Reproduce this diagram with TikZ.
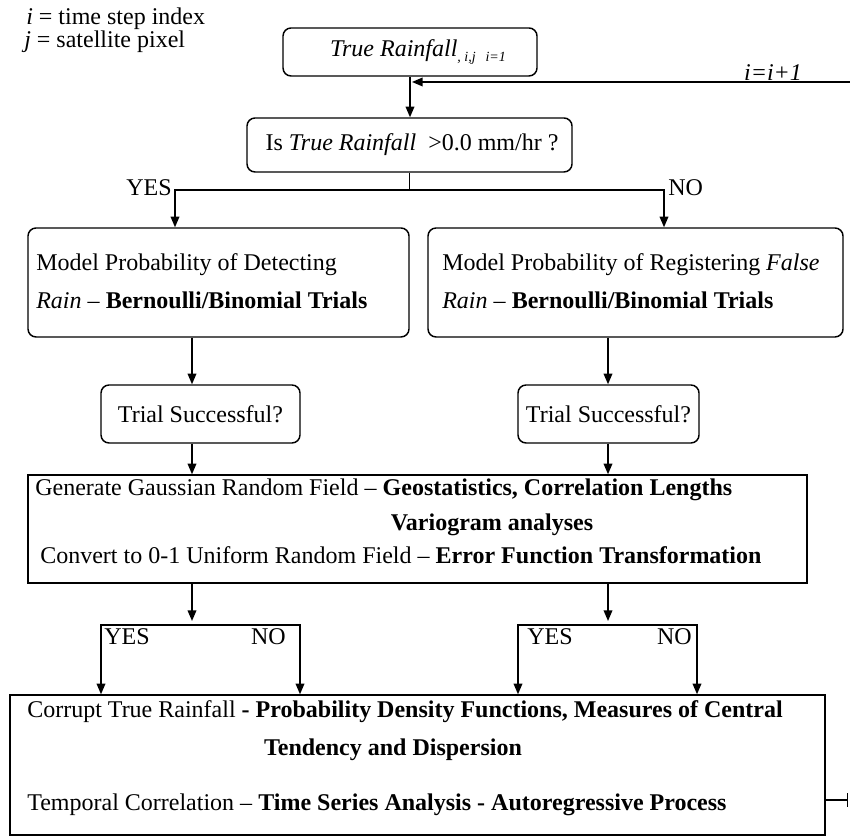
\documentclass[tikz,border=0pt]{standalone}
\usepackage{fontspec}
\setmainfont{Liberation Serif}
\usetikzlibrary{arrows.meta,fit}

\tikzset{
  rbox/.style={draw, rounded corners=6pt, line width=1.1pt, inner sep=0pt},
  sbox/.style={draw, line width=1.1pt, inner sep=0pt},
  flow/.style={line width=1.1pt, -{Triangle[length=8pt,width=6.5pt]}},
  flowboth/.style={line width=1.1pt, {Triangle[length=8pt,width=6.5pt]}-{Triangle[length=8pt,width=6.5pt]}},
  txt/.style={inner sep=0pt, font=\fontsize{18}{21.6}\selectfont},
}

\begin{document}
\begin{tikzpicture}[x=0.75pt,y=0.75pt,yscale=-1,xscale=1]
\useasboundingbox (0,0) rectangle (850,837);

% Key
\node[txt, anchor=base west] (keyI) at (26,25) {\textit{i} = time step index};
\node[txt, anchor=base west] (keyJ) at (24,48) {\textit{j} = satellite pixel};

%Shape: Rounded Rect [start]
\node[rbox, fit={(283,28) (537,76)}] (top) {};
\node[txt] (topTxt) at (418,52) {\itshape True Rainfall\raisebox{-0.45ex}{\fontsize{10.5}{12}\selectfont , i,j\hspace{0.7em}i=1}};
%Shape: Rounded Rect [question]
\node[rbox, fit={(247,118) (572,172)}] (dec) {};
\node[txt] (decTxt) at (412,145) {Is \textit{True Rainfall}\ \ >0.0 mm/hr ?};

%Shape: Rounded Rect [models]
\node[rbox, fit={(28,228) (409,337)}] (modL) {};
\node[rbox, fit={(428,228) (843,337)}] (modR) {};
\node[txt, anchor=west] (modL1) at (36,265) {Model Probability of Detecting};
\node[txt, anchor=west] (modL2) at (36,300) {\textit{Rain} -- \textbf{Bernoulli/Binomial Trials}};
\node[txt, anchor=west] (modR1) at (442,265) {Model Probability of Registering \textit{False}};
\node[txt, anchor=west] (modR2) at (442,300) {\textit{Rain} -- \textbf{Bernoulli/Binomial Trials}};

%Shape: Rounded Rect [trials]
\node[rbox, fit={(101,385) (300,443)}] (trialL) {};
\node[rbox, fit={(518,385) (699,443)}] (trialR) {};
\node[txt] (trialLTxt) at (trialL) {Trial Successful?};
\node[txt] (trialRTxt) at (trialR) {Trial Successful?};

%Shape: Rectangle [random field]
\node[sbox, fit={(28,475) (807,583)}] (gauss) {};
\node[txt, anchor=west] (gauss1) at (35,490) {Generate Gaussian Random Field -- \textbf{Geostatistics, Correlation Lengths}};
\node[txt] (gauss2) at (492,525) {\textbf{Variogram analyses}};
\node[txt, anchor=west] (gauss3) at (40,555) {Convert to 0-1 Uniform Random Field -- \textbf{Error Function Transformation}};

%Shape: Rectangle [corrupt]
\node[sbox, fit={(10,695) (825,835)}] (bot) {};
\node[txt, anchor=west] (bot1) at (27,712) {Corrupt True Rainfall \textbf{- Probability Density Functions, Measures of Central}};
\node[txt] (bot2) at (393,750) {\textbf{Tendency and Dispersion}};
\node[txt, anchor=west] (bot3) at (27,805) {Temporal Correlation -- \textbf{Time Series Analysis - Autoregressive Process}};

% Coordinates
\coordinate (loopR) at (850,82);
\coordinate (split) at (409.5,190);
\coordinate (yesA) at (175,190);
\coordinate (noA) at (664,190);
\coordinate (colL) at (192,621);
\coordinate (colR) at (608,621);
\coordinate (brLa) at (101,625);
\coordinate (brLb) at (300,625);
\coordinate (brRa) at (518,625);
\coordinate (brRb) at (697,625);
\coordinate (stubEnd) at (848,800);

%Straight Lines
\draw[flow] (top.south -| 410,0) -- (dec.north -| 410,0);
\draw[flow] (loopR) -- (412,82);
\node[txt, anchor=south] (incr) at (773,81) {\itshape i=i+1};

\draw[line width=1.1pt] (dec.south -| split) -- (split);
\draw[flow] (split) -| (yesA |- modL.north);
\draw[flow] (split) -| (noA |- modR.north);
\node[txt, anchor=east] (yesTop) at (172,188) {YES};
\node[txt, anchor=west] (noTop) at (668,188) {NO};

\draw[flow] (modL.south -| colL) -- (trialL.north -| colL);
\draw[flow] (modR.south -| colR) -- (trialR.north -| colR);
\draw[flow] (trialL.south -| colL) -- (gauss.north -| colL);
\draw[flow] (trialR.south -| colR) -- (gauss.north -| colR);
\draw[flow] (gauss.south -| colL) -- (colL);
\draw[flow] (gauss.south -| colR) -- (colR);

\draw[flowboth] (brLa |- bot.north) -- (brLa) -- (brLb) -- (brLb |- bot.north);
\draw[flowboth] (brRa |- bot.north) -- (brRa) -- (brRb) -- (brRb |- bot.north);
\node[txt, anchor=west] (yesL) at (104,637) {YES};
\node[txt, anchor=east] (noL) at (286,637) {NO};
\node[txt, anchor=west] (yesR) at (527,637) {YES};
\node[txt, anchor=east] (noR) at (692,637) {NO};

\draw[line width=1.1pt, -{Bar[width=10pt]}] (bot.east |- stubEnd) -- (stubEnd);
\end{tikzpicture}
\end{document}
